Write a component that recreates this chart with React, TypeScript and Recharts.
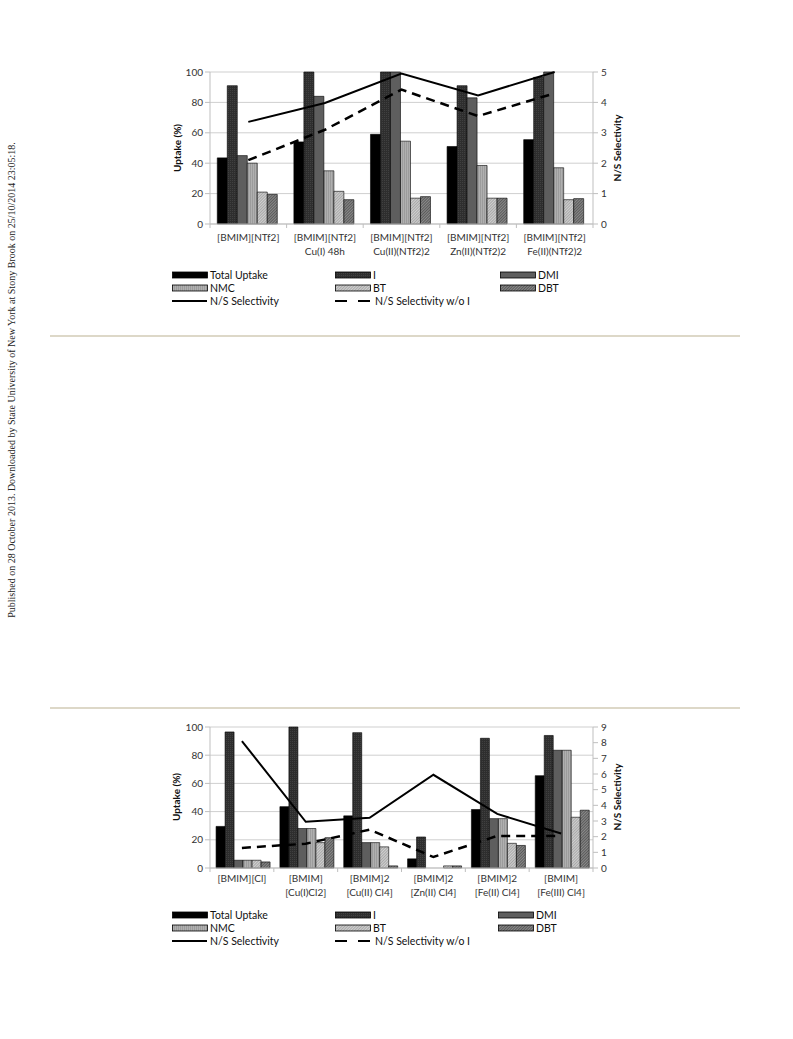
import React from 'react';
import { ComposedChart, Bar, Line, XAxis, YAxis, CartesianGrid } from 'recharts';

// top chart: [BMIM][NTf2] based ILs
const topCategories = [
  '[BMIM][NTf2]',
  '[BMIM][NTf2]\nCu(I) 48h',
  '[BMIM][NTf2]\nCu(II)(NTf2)2',
  '[BMIM][NTf2]\nZn(II)(NTf2)2',
  '[BMIM][NTf2]\nFe(II)(NTf2)2',
];
const topTotal = [43.5, 54, 59, 51, 55.5];
const topI = [91, 100, 100, 91, 96.5];
const topDMI = [45, 84, 100, 83, 100];
const topNMC = [40, 35, 54.5, 38.5, 37];
const topBT = [21, 21.5, 17, 17, 16];
const topDBT = [19.5, 16, 18, 17, 16.7];
const topSel = [3.36, 3.98, 4.95, 4.23, 5.0];
const topSelNoI = [2.1, 3.1, 4.42, 3.55, 4.3];

// bottom chart: chloride based ILs
const botCategories = [
  '[BMIM][Cl]',
  '[BMIM]\n[Cu(I)Cl2]',
  '[BMIM]2\n[Cu(II) Cl4]',
  '[BMIM]2\n[Zn(II) Cl4]',
  '[BMIM]2\n[Fe(II) Cl4]',
  '[BMIM]\n[Fe(III) Cl4]',
];
const botTotal = [29.5, 43.5, 37, 6.5, 41.5, 65.5];
const botI = [96.5, 100, 96, 22, 92, 94];
const botDMI = [5.5, 28, 18, 0, 35, 83.5];
const botNMC = [5.5, 28, 18, 0, 35, 83.5];
const botBT = [5.5, 18, 15, 1.5, 17.5, 36];
const botDBT = [4.3, 21.5, 1.5, 1.5, 16, 41];
const botSel = [8.1, 2.95, 3.2, 5.95, 3.45, 2.2];
const botSelNoI = [1.28, 1.55, 2.45, 0.7, 2.05, 2.05];

const uptakeTicks = [0, 20, 40, 60, 80, 100];
const topSelTicks = [0, 1, 2, 3, 4, 5];
const botSelTicks = [0, 1, 2, 3, 4, 5, 6, 7, 8, 9];

const legendRows = [
  ['Total Uptake', 'I', 'DMI'],
  ['NMC', 'BT', 'DBT'],
  ['N/S Selectivity', 'N/S Selectivity w/o I'],
];

const FONT = 'Lato, "Open Sans", sans-serif';

const build = (cats: string[], total: number[], i: number[], dmi: number[], nmc: number[], bt: number[], dbt: number[], sel: number[], selNoI: number[]) =>
  cats.map((name, k) => ({
    name,
    total: total[k],
    i: i[k],
    dmi: dmi[k],
    nmc: nmc[k],
    bt: bt[k],
    dbt: dbt[k],
    sel: sel[k],
    selNoI: selNoI[k],
  }));

const topData = build(topCategories, topTotal, topI, topDMI, topNMC, topBT, topDBT, topSel, topSelNoI);
const botData = build(botCategories, botTotal, botI, botDMI, botNMC, botBT, botDBT, botSel, botSelNoI);

const fills: Record<string, string> = {
  total: '#000000',
  i: 'url(#patI)',
  dmi: '#5e5e5e',
  nmc: 'url(#patNMC)',
  bt: 'url(#patBT)',
  dbt: 'url(#patDBT)',
};
const legendFill: Record<string, string> = {
  'Total Uptake': fills.total,
  I: fills.i,
  DMI: fills.dmi,
  NMC: fills.nmc,
  BT: fills.bt,
  DBT: fills.dbt,
};

const CatTick = (props: any) => {
  const { x, y, payload, index, band, gap1, gap2, count } = props;
  const lines = String(payload.value).split('\n');
  return (
    <g>
      <line x1={x - band / 2} x2={x - band / 2} y1={y} y2={y + 4} stroke="#bfbfbf" />
      {index === count - 1 && <line x1={x + band / 2} x2={x + band / 2} y1={y} y2={y + 4} stroke="#bfbfbf" />}
      {lines.map((l, k) => (
        <text key={k} x={x} y={y + (k === 0 ? gap1 : gap2) + 3.5} textAnchor="middle" fontSize={10} fontFamily={FONT} fill="#333">
          {l}
        </text>
      ))}
    </g>
  );
};

type ChartProps = {
  data: any[];
  top: number;
  height: number;
  plotH: number;
  selTicks: number[];
  gap1: number;
  gap2: number;
};

const W = 490;
const PLOT_W = 383;

const UptakeChart: React.FC<ChartProps> = ({ data, top, height, plotH, selTicks, gap1, gap2 }) => {
  const band = PLOT_W / data.length;
  const tickStyle = { fontSize: 10, fontFamily: FONT, fill: '#333' };
  return (
    <div style={{ position: 'absolute', left: 150, top }}>
      <ComposedChart
        width={W}
        height={height}
        data={data}
        margin={{ top: 10, right: 0, left: 0, bottom: 0 }}
        barCategoryGap="9.5%"
        barGap={0}
      >
        <CartesianGrid yAxisId="left" vertical={false} stroke="#cfcfcf" />
        <XAxis
          dataKey="name"
          height={height - 10 - plotH}
          axisLine={{ stroke: '#bfbfbf' }}
          tickLine={false}
          tickSize={0}
          tickMargin={0}
          interval={0}
          tick={<CatTick band={band} gap1={gap1} gap2={gap2} count={data.length} />}
        />
        <YAxis
          yAxisId="left"
          width={60}
          domain={[0, 100]}
          ticks={uptakeTicks}
          axisLine={{ stroke: '#bfbfbf' }}
          tickLine={{ stroke: '#bfbfbf' }}
          tickSize={5}
          tickMargin={2}
          tick={tickStyle}
        />
        <YAxis
          yAxisId="right"
          orientation="right"
          width={W - 60 - PLOT_W}
          domain={[0, selTicks[selTicks.length - 1]]}
          ticks={selTicks}
          interval={0}
          axisLine={{ stroke: '#bfbfbf' }}
          tickLine={{ stroke: '#bfbfbf' }}
          tickSize={5}
          tickMargin={3}
          tick={{ ...tickStyle, textAnchor: 'start' }}
        />
        {(['total', 'i', 'dmi', 'nmc', 'bt', 'dbt'] as const).map((k) => (
          <Bar key={k} yAxisId="left" dataKey={k} fill={fills[k]} stroke="#000" strokeWidth={0.6} isAnimationActive={false} />
        ))}
        <Line yAxisId="right" dataKey="sel" type="linear" stroke="#000" strokeWidth={2} dot={false} isAnimationActive={false} />
        <Line yAxisId="right" dataKey="selNoI" type="linear" stroke="#000" strokeWidth={2.5} strokeDasharray="9 6" dot={false} isAnimationActive={false} />
      </ComposedChart>
    </div>
  );
};

const Legend: React.FC<{ top: number; col3: number }> = ({ top, col3 }) => {
  const cols = [172, 335, col3];
  const rowY = [0, 12.5, 26];
  return (
    <>
      {legendRows.map((row, r) =>
        row.map((label, c) => {
          const x = cols[c];
          const y = top + rowY[r];
          let swatch: React.ReactNode;
          if (r < 2) {
            swatch = (
              <svg width={36} height={8} style={{ position: 'absolute', left: x, top: y - 4 }}>
                <rect x={0.5} y={1} width={35} height={6} fill={legendFill[label]} stroke="#000" strokeWidth={0.8} />
              </svg>
            );
          } else {
            swatch = (
              <svg width={36} height={6} style={{ position: 'absolute', left: x, top: y - 3 }}>
                <line x1={0} x2={35} y1={3} y2={3} stroke="#000" strokeWidth={2} strokeDasharray={c === 1 ? '12 11' : undefined} />
              </svg>
            );
          }
          return (
            <React.Fragment key={label}>
              {swatch}
              <div
                style={{
                  position: 'absolute',
                  left: x + (r === 2 && c === 1 ? 40 : 38),
                  top: y - 7,
                  fontSize: 10.5,
                  lineHeight: '14px',
                  fontFamily: FONT,
                  color: '#111',
                  whiteSpace: 'nowrap',
                }}
              >
                {label}
              </div>
            </React.Fragment>
          );
        })
      )}
    </>
  );
};

const RotLabel: React.FC<{ x: number; y: number; text: string }> = ({ x, y, text }) => (
  <div
    style={{
      position: 'absolute',
      left: x,
      top: y,
      transform: 'translate(-50%, -50%) rotate(-90deg)',
      fontSize: 10,
      fontWeight: 700,
      fontFamily: FONT,
      color: '#111',
      whiteSpace: 'nowrap',
    }}
  >
    {text}
  </div>
);

const App: React.FC = () => {
  return (
    <div style={{ position: 'absolute', left: 0, top: 0, width: 793, height: 1039, background: '#fff', overflow: 'hidden' }}>
      <svg width={0} height={0} style={{ position: 'absolute' }}>
        <defs>
          <pattern id="patI" width={2} height={2} patternUnits="userSpaceOnUse">
            <rect width={2} height={2} fill="#2e2e2e" />
            <rect x={0} y={0} width={1} height={1} fill="#404040" />
          </pattern>
          <pattern id="patNMC" width={2} height={2} patternUnits="userSpaceOnUse">
            <rect width={2} height={2} fill="#b0b0b0" />
            <rect x={0} y={0} width={1} height={2} fill="#9c9c9c" />
          </pattern>
          <pattern id="patBT" width={2} height={2} patternUnits="userSpaceOnUse" patternTransform="rotate(45)">
            <rect width={2} height={2} fill="#d0d0d0" />
            <rect x={0} y={0} width={1} height={2} fill="#a8a8a8" />
          </pattern>
          <pattern id="patDBT" width={2} height={2} patternUnits="userSpaceOnUse" patternTransform="rotate(45)">
            <rect width={2} height={2} fill="#8a8a8a" />
            <rect x={0} y={0} width={1} height={2} fill="#5a5a5a" />
          </pattern>
        </defs>
      </svg>

      {/* side stamp */}
      <div
        style={{
          position: 'absolute',
          left: 11,
          top: 380,
          transform: 'translate(-50%, -50%) rotate(-90deg)',
          fontFamily: '"Liberation Serif", "DejaVu Serif", serif',
          fontSize: 10,
          color: '#222',
          whiteSpace: 'nowrap',
        }}
      >
        Published on 28 October 2013. Downloaded by State University of New York at Stony Brook on 25/10/2014 23:05:18.
      </div>

      <UptakeChart data={topData} top={62} height={198} plotH={152} selTicks={topSelTicks} gap1={13} gap2={27} />
      <RotLabel x={177} y={148} text="Uptake (%)" />
      <RotLabel x={617} y={148} text="N/S Selectivity" />
      <Legend top={275} col3={500} />

      <div style={{ position: 'absolute', left: 50, top: 335, width: 690, height: 2, background: '#ddd8c8' }} />
      <div style={{ position: 'absolute', left: 50, top: 707, width: 690, height: 2, background: '#ddd8c8' }} />

      <UptakeChart data={botData} top={717} height={183} plotH={141} selTicks={botSelTicks} gap1={10.5} gap2={24} />
      <RotLabel x={176} y={797} text="Uptake (%)" />
      <RotLabel x={617} y={797} text="N/S Selectivity" />
      <Legend top={915} col3={498} />
    </div>
  );
};

export default App;
